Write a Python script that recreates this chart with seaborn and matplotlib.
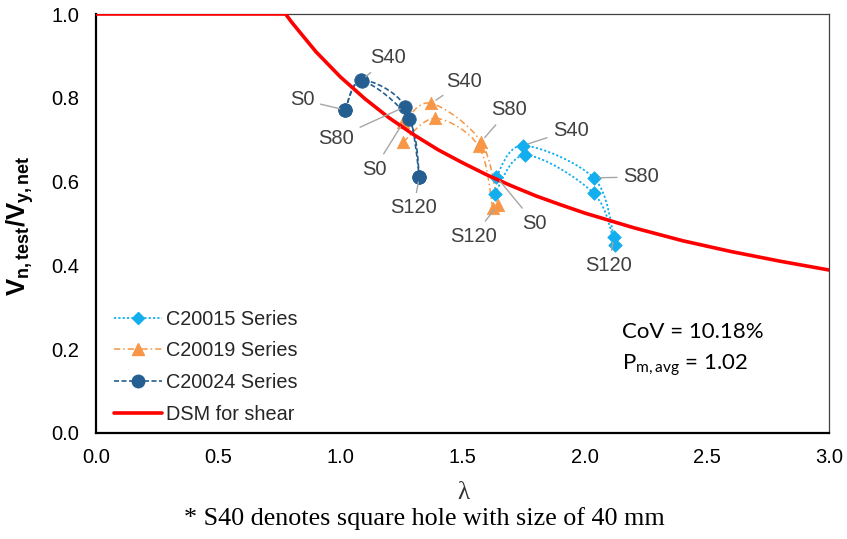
import numpy as np
import pandas as pd
import matplotlib
matplotlib.use("Agg")
import matplotlib.pyplot as plt
import seaborn as sns
from matplotlib.path import Path
from matplotlib.patches import PathPatch
from matplotlib.lines import Line2D

# ---------------- data ----------------
hole_labels = ["S0", "S40", "S80", "S120"]

lam_c20015_a = [1.638, 1.747, 2.037, 2.120]
v_c20015_a = [0.612, 0.686, 0.609, 0.468]
lam_c20015_b = [1.631, 1.757, 2.037, 2.123]
v_c20015_b = [0.570, 0.663, 0.572, 0.449]

lam_c20019_a = [1.258, 1.372, 1.576, 1.645]
v_c20019_a = [0.742, 0.787, 0.695, 0.544]
lam_c20019_b = [1.258, 1.389, 1.566, 1.624]
v_c20019_b = [0.695, 0.751, 0.685, 0.536]

lam_c20024_a = [1.020, 1.086, 1.266, 1.324]
v_c20024_a = [0.771, 0.842, 0.779, 0.612]
lam_c20024_b = [1.020, 1.088, 1.280, 1.324]
v_c20024_b = [0.771, 0.840, 0.749, 0.612]

dsm_lam = [0.0, 0.776, 0.8, 0.9, 1.0, 1.1, 1.2, 1.3, 1.4, 1.5, 1.6, 1.7, 1.8, 1.9,
           2.0, 2.2, 2.4, 2.6, 2.8, 3.0]
dsm_v = [1.0, 1.0, 0.981, 0.910, 0.850, 0.798, 0.752, 0.712, 0.676, 0.645, 0.616,
         0.590, 0.566, 0.545, 0.525, 0.490, 0.459, 0.433, 0.410, 0.389]

series_names = ["C20015 Series", "C20019 Series", "C20024 Series", "DSM for shear"]

# label positions (text centres) for the hole-size annotations
labels_c20015 = [(1.795, 0.501), (1.943, 0.723), (2.230, 0.611), (2.098, 0.399)]
labels_c20019 = [(1.139, 0.630), (1.508, 0.840), (1.689, 0.771), (1.545, 0.470)]
labels_c20024 = [(0.844, 0.795), (1.197, 0.895), (0.984, 0.704), (1.299, 0.537)]

x_ticks = [0.0, 0.5, 1.0, 1.5, 2.0, 2.5, 3.0]
y_ticks = [0.0, 0.2, 0.4, 0.6, 0.8, 1.0]

# ---------------- styling ----------------
sns.set_theme(style="white")
plt.rcParams["font.family"] = ["Liberation Sans", "DejaVu Sans"]
plt.rcParams["mathtext.fontset"] = "custom"
plt.rcParams["mathtext.rm"] = "Liberation Sans"
plt.rcParams["mathtext.bf"] = "Liberation Sans:bold"
plt.rcParams["mathtext.it"] = "Liberation Sans:italic"

c_blue = "#12AEEE"
c_orange = "#F79646"
c_dark = "#255E91"
c_red = "#FF0000"
c_grey_line = "#A6A6A6"
c_text = "#404040"

fig = plt.figure(figsize=(8.47, 5.39), dpi=100)
ax = fig.add_axes([96 / 847, 106 / 539, 733 / 847, 419 / 539])


def smooth_path(xs, ys):
    P = np.column_stack([xs, ys]).astype(float)
    n = len(P)
    verts = [P[0]]
    codes = [Path.MOVETO]
    for i in range(n - 1):
        p0 = P[i - 1] if i > 0 else P[i]
        p1 = P[i]
        p2 = P[i + 1]
        p3 = P[i + 2] if i + 2 < n else P[i + 1]
        verts += [p1 + (p2 - p0) / 6.0, p2 - (p3 - p1) / 6.0, p2]
        codes += [Path.CURVE4] * 3
    return Path(verts, codes)


groups = [
    (series_names[0], [(lam_c20015_a, v_c20015_a), (lam_c20015_b, v_c20015_b)], c_blue, "D", 48,
     (0, (1.2, 1.2)), 1.3, labels_c20015),
    (series_names[1], [(lam_c20019_a, v_c20019_a), (lam_c20019_b, v_c20019_b)], c_orange, "^", 80,
     (0, (4, 2, 1, 2)), 1.1, labels_c20019),
    (series_names[2], [(lam_c20024_a, v_c20024_a), (lam_c20024_b, v_c20024_b)], c_dark, "o", 95,
     (0, (3, 1.5)), 1.2, labels_c20024),
]

handles = []
for name, specimens, color, marker, size, ls, lw, lab_pos in groups:
    for lx, ly in specimens:
        patch = PathPatch(smooth_path(lx, ly), fill=False, edgecolor=color, lw=lw,
                          linestyle=ls, zorder=2)
        ax.add_patch(patch)
    df = pd.DataFrame({
        "lam": list(specimens[0][0]) + list(specimens[1][0]),
        "v": list(specimens[0][1]) + list(specimens[1][1]),
    })
    sns.scatterplot(data=df, x="lam", y="v", marker=marker, s=size, color=color,
                    edgecolor=color, linewidth=0.5, ax=ax, zorder=3, legend=False)
    # annotations
    for k, lab in enumerate(hole_labels):
        px, py = specimens[0][0][k], specimens[0][1][k]
        tx, ty = lab_pos[k]
        ax.annotate(lab, xy=(px, py), xytext=(tx, ty), ha="center", va="center",
                    fontsize=14.5, color=c_text, zorder=5,
                    arrowprops=dict(arrowstyle="-", color=c_grey_line, lw=1,
                                    shrinkA=2, shrinkB=4))
    ms = {"D": 6.5, "^": 9, "o": 9}[marker]
    handles.append(Line2D([], [], color=color, linestyle=ls, lw=lw, marker=marker,
                          markersize=ms, markeredgecolor=color))

dsm_df = pd.DataFrame({"lam": dsm_lam, "v": dsm_v})
sns.lineplot(data=dsm_df, x="lam", y="v", color=c_red, lw=2.6, ax=ax, zorder=4,
             legend=False, sort=False)
handles.append(Line2D([], [], color=c_red, lw=2.6))

ax.set_xlim(0, 3.0)
ax.set_ylim(0, 1.0)
ax.set_xticks(x_ticks)
ax.set_yticks(y_ticks)
ax.set_xticklabels([f"{t:.1f}" for t in x_ticks])
ax.set_yticklabels([f"{t:.1f}" for t in y_ticks])
ax.tick_params(axis="both", direction="in", length=4, width=1, labelsize=14.5,
               labelcolor="black", color="black")
ax.tick_params(axis="x", pad=11)
ax.tick_params(axis="y", pad=12)
ax.set_xlabel("")
ax.set_ylabel("")
for side in ["left", "bottom"]:
    ax.spines[side].set_color("black")
    ax.spines[side].set_linewidth(1.6)
for side in ["right", "top"]:
    ax.spines[side].set_color("#404040")
    ax.spines[side].set_linewidth(0.9)

leg = ax.legend(handles, series_names, loc="lower left", bbox_to_anchor=(0.025, 0.022),
                frameon=False, fontsize=14.3, handlelength=2.4, handletextpad=0.2,
                labelspacing=0.64, borderpad=0, borderaxespad=0)

ax.text(2.152, 0.240, "CoV = 10.18%", fontsize=16, family=["Lato", "DejaVu Sans"],
        va="center", ha="left", color="black")
ax.text(2.152, 0.162, r"P$_\mathregular{m,avg}$ = 1.02", fontsize=16,
        family=["Lato", "DejaVu Sans"], va="center", ha="left", color="black")

fig.text(20 / 847, 1 - 226 / 539, r"$\mathbf{V_{n,test}/V_{y,net}}$", rotation=90,
         fontsize=18.5, ha="center", va="center", color="black")
fig.text(463 / 847, 1 - 493 / 539, "λ", fontsize=18, family=["Liberation Serif"],
         ha="center", va="center", color="#333333")
fig.text(424 / 847, 1 - 519 / 539, "* S40 denotes square hole with size of 40 mm",
         fontsize=18.8, family=["Liberation Serif"], ha="center", va="center", color="black")

fig.savefig("out.png", dpi=100)
